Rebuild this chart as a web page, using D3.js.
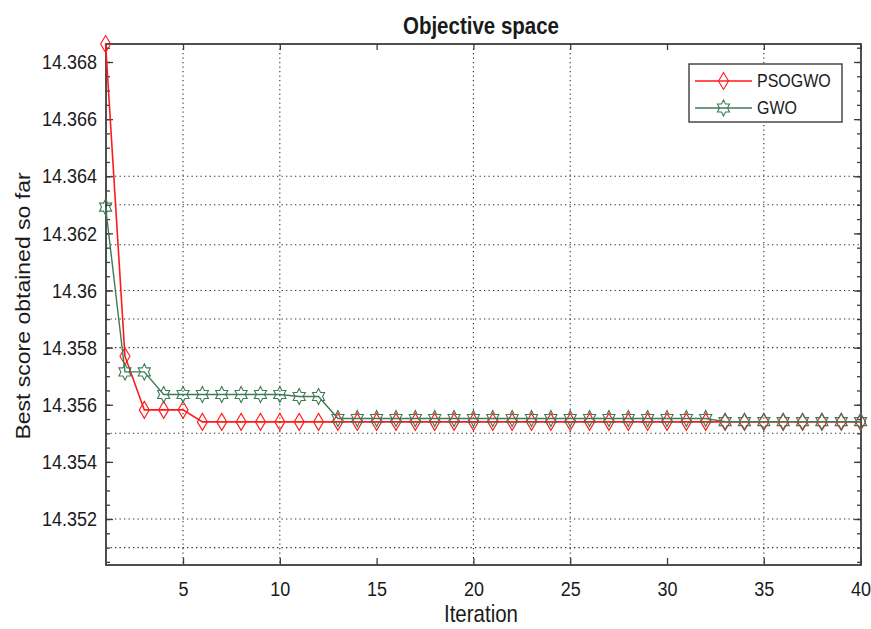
<!DOCTYPE html>
<html>
<head>
<meta charset="utf-8">
<script src="https://cdn.jsdelivr.net/npm/d3@7"></script>
<style>
  html, body { margin: 0; padding: 0; background: #fff; }
  svg text { font-family: "Liberation Sans", Arial, sans-serif; fill: #1a1a1a; }
  .tall { transform-box: fill-box; transform-origin: center; transform: scaleY(1.15); }
  .long { transform-box: fill-box; transform-origin: center; transform: scaleX(1.15); }
</style>
</head>
<body>
<svg id="chart" width="871" height="629"></svg>
<script>
// Iteration numbers (x axis)
const iterations = [1, 2, 3, 4, 5, 6, 7, 8, 9, 10,
  11, 12, 13, 14, 15, 16, 17, 18, 19, 20,
  21, 22, 23, 24, 25, 26, 27, 28, 29, 30,
  31, 32, 33, 34, 35, 36, 37, 38, 39, 40];

// Best score obtained so far, per iteration
const psogwo = [14.36863, 14.3577, 14.35582, 14.35582, 14.35582, 14.3554, 14.3554, 14.3554, 14.3554, 14.3554,
  14.3554, 14.3554, 14.3554, 14.3554, 14.3554, 14.3554, 14.3554, 14.3554, 14.3554, 14.3554,
  14.3554, 14.3554, 14.3554, 14.3554, 14.3554, 14.3554, 14.3554, 14.3554, 14.3554, 14.3554,
  14.3554, 14.3554, 14.3554, 14.3554, 14.3554, 14.3554, 14.3554, 14.3554, 14.3554, 14.3554];

const gwo = [14.36292, 14.35715, 14.35715, 14.35636, 14.35636, 14.35636, 14.35636, 14.35636, 14.35636, 14.35636,
  14.35629, 14.35629, 14.35552, 14.35552, 14.35552, 14.35552, 14.35552, 14.35552, 14.35552, 14.35552,
  14.35552, 14.35552, 14.35552, 14.35552, 14.35552, 14.35552, 14.35552, 14.35552, 14.35552, 14.35552,
  14.35552, 14.35552, 14.35541, 14.35541, 14.35541, 14.35541, 14.35541, 14.35541, 14.35541, 14.35541];

const seriesNames = ["PSOGWO", "GWO"];

// Axis ticks and grid positions
const xTicks = [5, 10, 15, 20, 25, 30, 35, 40];
const yTicks = [14.352, 14.354, 14.356, 14.358, 14.36, 14.362, 14.364, 14.366, 14.368];
const xGrid = [5, 10, 20, 25, 35];
const yGrid = [14.351, 14.352, 14.355, 14.358, 14.359, 14.36, 14.3616, 14.363, 14.364];

const xDomain = [1, 40];
const yDomain = [14.35039, 14.36863];

const svg = d3.select("#chart");
const L = 106, R = 861, T = 44, B = 565;

const x = d3.scaleLinear().domain(xDomain).range([L - 0.4, R - 0.4]);
const y = d3.scaleLinear().domain(yDomain).range([B, T]);

const axisColor = "#3c3c3c";
const red = "#ff1a1a";
const green = "#3f7a58";

// grid
const grid = svg.append("g").attr("stroke", "#2e2e2e").attr("stroke-width", 1.1)
  .attr("stroke-dasharray", "1.3,3.2");
grid.selectAll("line.gx").data(xGrid).join("line")
  .attr("x1", d => x(d)).attr("x2", d => x(d)).attr("y1", T).attr("y2", B);
grid.selectAll("line.gy").data(yGrid).join("line")
  .attr("x1", L).attr("x2", R).attr("y1", d => y(d)).attr("y2", d => y(d));

// minor y ticks every 0.0005
const yMinor = d3.range(14.3505, 14.3686, 0.0005);

function styleAxis(g) {
  g.select(".domain").remove();
  g.selectAll(".tick line").attr("stroke", axisColor).attr("stroke-width", 1.3);
}

// bottom axis
svg.append("g").attr("transform", `translate(0,${B})`)
  .call(d3.axisBottom(x).tickValues(xTicks).tickSizeInner(-7).tickSizeOuter(0).tickFormat(d3.format("d")))
  .call(styleAxis)
  .call(g => g.selectAll(".tick text").attr("y", 30).attr("dy", null)
    .attr("font-size", 18).attr("class", "tall").style("fill", "#1a1a1a"));

// top axis
svg.append("g").attr("transform", `translate(0,${T})`)
  .call(d3.axisTop(x).tickValues(xTicks).tickSizeInner(-6).tickSizeOuter(0).tickFormat(""))
  .call(styleAxis);

// left axis (major + minor)
svg.append("g").attr("transform", `translate(${L},0)`)
  .call(d3.axisLeft(y).tickValues(yMinor).tickSizeInner(-4).tickSizeOuter(0).tickFormat(""))
  .call(styleAxis);
svg.append("g").attr("transform", `translate(${L},0)`)
  .call(d3.axisLeft(y).tickValues(yTicks).tickSizeInner(-7).tickSizeOuter(0)
    .tickFormat(d => String(+d.toFixed(3))))
  .call(styleAxis)
  .call(g => g.selectAll(".tick text").attr("x", -9)
    .attr("font-size", 18).attr("class", "tall").style("fill", "#1a1a1a"));

// right axis (major + minor)
svg.append("g").attr("transform", `translate(${R},0)`)
  .call(d3.axisRight(y).tickValues(yMinor).tickSizeInner(-4).tickSizeOuter(0).tickFormat(""))
  .call(styleAxis);
svg.append("g").attr("transform", `translate(${R},0)`)
  .call(d3.axisRight(y).tickValues(yTicks).tickSizeInner(-7).tickSizeOuter(0).tickFormat(""))
  .call(styleAxis);

// frame
svg.append("rect").attr("x", L).attr("y", T).attr("width", R - L).attr("height", B - T)
  .attr("fill", "none").attr("stroke", axisColor).attr("stroke-width", 1.8);

// marker shapes
const diamondPath = "M0,-8.5L5,0L0,8.5L-5,0Z";
function hexagramPath(r) {
  const pts = [];
  for (let k = 0; k < 12; k++) {
    const a = (-90 + k * 30) * Math.PI / 180;
    const rr = k % 2 === 0 ? r : r / Math.sqrt(3);
    pts.push([rr * Math.cos(a), rr * Math.sin(a) * 1.15]);
  }
  return "M" + pts.map(p => p[0].toFixed(2) + "," + p[1].toFixed(2)).join("L") + "Z";
}
const starPath = hexagramPath(7);

const line = d3.line().x(d => x(d[0])).y(d => y(d[1]));

function drawSeries(values, color, width, path) {
  const pts = iterations.map((it, i) => [it, values[i]]);
  const g = svg.append("g");
  g.append("path").datum(pts).attr("d", line)
    .attr("fill", "none").attr("stroke", color).attr("stroke-width", width);
  g.selectAll("path.m").data(pts).join("path").attr("class", "m")
    .attr("d", path)
    .attr("transform", d => `translate(${x(d[0])},${y(d[1])})`)
    .attr("fill", "none").attr("stroke", color).attr("stroke-width", 1.1);
}

drawSeries(psogwo, red, 1.6, diamondPath);
drawSeries(gwo, green, 1.4, starPath);

// legend
const lg = svg.append("g");
lg.append("rect").attr("x", 689).attr("y", 64).attr("width", 153).attr("height", 58)
  .attr("fill", "#fff").attr("stroke", axisColor).attr("stroke-width", 1.4);
const legendItems = [
  { name: seriesNames[0], color: red, path: diamondPath, w: 1.6, cy: 81 },
  { name: seriesNames[1], color: green, path: starPath, w: 1.4, cy: 108 }
];
legendItems.forEach(it => {
  lg.append("line").attr("x1", 695).attr("x2", 752).attr("y1", it.cy).attr("y2", it.cy)
    .attr("stroke", it.color).attr("stroke-width", it.w);
  lg.append("path").attr("d", it.path).attr("transform", `translate(723.5,${it.cy})`)
    .attr("fill", "none").attr("stroke", it.color).attr("stroke-width", 1.1);
  lg.append("text").attr("x", 757).attr("y", it.cy).attr("dy", "0.35em")
    .attr("font-size", 16).attr("class", "tall").text(it.name);
});

// title and axis labels
svg.append("text").attr("x", 481).attr("y", 33).attr("text-anchor", "middle")
  .attr("font-size", 20.5).attr("font-weight", "bold").attr("class", "tall")
  .text("Objective space");
svg.append("text").attr("x", 481).attr("y", 621).attr("text-anchor", "middle")
  .attr("font-size", 20.5).attr("class", "tall").text("Iteration");
svg.append("g").attr("transform", "translate(30,306) rotate(-90)")
  .append("text").attr("x", 0).attr("y", 0).attr("text-anchor", "middle")
  .attr("font-size", 20).attr("class", "long").text("Best score obtained so far");
</script>
</body>
</html>
